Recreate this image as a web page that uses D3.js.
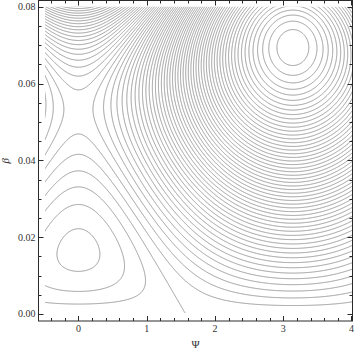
<!DOCTYPE html>
<html lang="en">
<head>
<meta charset="UTF-8">
<title>Psi-beta contours</title>
<script src="https://d3js.org/d3.v7.min.js"></script>
<style>
  body { margin: 0; background: #fff; }
  svg { display: block; font-family: "Liberation Serif", "DejaVu Serif", serif; }
  .contour { fill: none; stroke: #9a9a9a; stroke-width: 1; }
  .frame { fill: none; stroke: #2a2a2a; stroke-width: 1; }
  .tick { stroke: #2a2a2a; stroke-width: 1; }
  .tick-label { font-size: 10px; fill: #333; }
  .axis-title { font-size: 11px; fill: #333; }
</style>
</head>
<body>
<svg id="chart" width="360" height="353"></svg>
<script>
// frame window
const psiDomain = [-0.585, 4.015];
const betaDomain = [-0.0018, 0.0816];
// area the contours cover
const psiShown = [-0.49, 4.015];
const betaShown = [0.0003, 0.08];

// fixed points (psi = 0): centre and saddle
const centreBeta = 0.0165;
const saddleBeta = 0.053;
// spacing between contour levels (scaled units)
const levelStep = 1.45;

const xTicks = [0, 1, 2, 3, 4];
const yTicks = [0, 0.02, 0.04, 0.06, 0.08];
const xTickLabels = ["0", "1", "2", "3", "4"];
const yTickLabels = ["0.00", "0.02", "0.04", "0.06", "0.08"];
const xMinorStep = 0.2;
const yMinorStep = 0.005;

const svg = d3.select("#chart");
const plotLeft = 38.5, plotRight = 352.5, plotTop = 0.5, plotBottom = 321;

const x = d3.scaleLinear().domain(psiDomain).range([plotLeft, plotRight]);
const y = d3.scaleLinear().domain(betaDomain).range([plotBottom, plotTop]);

// H = eps*b*cos(psi) + a*b^2 + b^4/4, with eps and a set by the fixed points
const a = -(centreBeta * centreBeta + centreBeta * saddleBeta + saddleBeta * saddleBeta) / 2;
const eps = centreBeta * saddleBeta * (centreBeta + saddleBeta);
function energy(psi, b) {
  return 1e7 * (eps * b * Math.cos(psi) + a * b * b + b * b * b * b / 4);
}

// sample grid (row 0 sits on beta = 0)
const n = 480, m = 440;
const psi0 = -0.62, psi1 = 4.1;
const beta0 = 0, beta1 = 0.0816;
const dpsi = (psi1 - psi0) / (n - 1);
const dbeta = (beta1 - beta0) / (m - 1);

const values = new Float64Array(n * m);
for (let j = 0; j < m; j++) {
  for (let i = 0; i < n; i++) {
    values[j * n + i] = energy(psi0 + i * dpsi, beta0 + j * dbeta);
  }
}

const [vmin, vmax] = d3.extent(values);
const thresholds = d3.range(Math.ceil(vmin / levelStep), Math.floor(vmax / levelStep) + 1)
  .map(k => k * levelStep);

const contours = d3.contours().size([n, m]).thresholds(thresholds)(values);

const gridToScreen = d3.geoTransform({
  point: function(gx, gy) {
    this.stream.point(x(psi0 + (gx - 0.5) * dpsi), y(beta0 + (gy - 0.5) * dbeta));
  }
});
const path = d3.geoPath(gridToScreen);

svg.append("clipPath").attr("id", "plot-clip")
  .append("rect")
  .attr("x", x(psiShown[0]))
  .attr("y", y(betaShown[1]))
  .attr("width", x(psiShown[1]) - x(psiShown[0]))
  .attr("height", y(betaShown[0]) - y(betaShown[1]));

svg.append("g")
  .attr("clip-path", "url(#plot-clip)")
  .selectAll("path")
  .data(contours)
  .join("path")
  .attr("class", "contour")
  .attr("d", path);

// frame
svg.append("rect").attr("class", "frame")
  .attr("x", plotLeft).attr("y", plotTop)
  .attr("width", plotRight - plotLeft).attr("height", plotBottom - plotTop);

// ticks, pointing inward on all four sides
const xMinor = d3.range(-0.4, 4.0001, xMinorStep).filter(v => !xTicks.some(t => Math.abs(t - v) < 1e-6));
const yMinor = d3.range(0, 0.08001, yMinorStep).filter(v => !yTicks.some(t => Math.abs(t - v) < 1e-9));
const ticks = svg.append("g");
function xTick(v, len) {
  const px = Math.round(x(v)) + 0.5;
  ticks.append("line").attr("class", "tick").attr("x1", px).attr("x2", px).attr("y1", plotBottom).attr("y2", plotBottom - len);
  ticks.append("line").attr("class", "tick").attr("x1", px).attr("x2", px).attr("y1", plotTop).attr("y2", plotTop + len);
}
function yTick(v, len) {
  const py = Math.round(y(v)) + 0.5;
  ticks.append("line").attr("class", "tick").attr("x1", plotLeft).attr("x2", plotLeft + len).attr("y1", py).attr("y2", py);
  ticks.append("line").attr("class", "tick").attr("x1", plotRight).attr("x2", plotRight - len).attr("y1", py).attr("y2", py);
}
xTicks.forEach(v => xTick(v, 5));
xMinor.forEach(v => xTick(v, 3));
yTicks.forEach(v => yTick(v, 5));
yMinor.forEach(v => yTick(v, 3));

svg.append("g").selectAll("text")
  .data(xTicks)
  .join("text")
  .attr("class", "tick-label")
  .attr("x", d => x(d))
  .attr("y", 331.5)
  .attr("text-anchor", "middle")
  .text((d, i) => xTickLabels[i]);

svg.append("g").selectAll("text")
  .data(yTicks)
  .join("text")
  .attr("class", "tick-label")
  .attr("x", 35.5)
  .attr("y", d => y(d))
  .attr("dy", "0.33em")
  .attr("text-anchor", "end")
  .text((d, i) => yTickLabels[i]);

svg.append("text")
  .attr("class", "axis-title")
  .attr("x", (plotLeft + plotRight) / 2)
  .attr("y", 348)
  .attr("text-anchor", "middle")
  .text("Ψ");

svg.append("text")
  .attr("class", "axis-title")
  .attr("transform", `translate(9,${(plotTop + plotBottom) / 2}) rotate(-90)`)
  .attr("text-anchor", "middle")
  .style("font-style", "italic")
  .text("β");
</script>
</body>
</html>
